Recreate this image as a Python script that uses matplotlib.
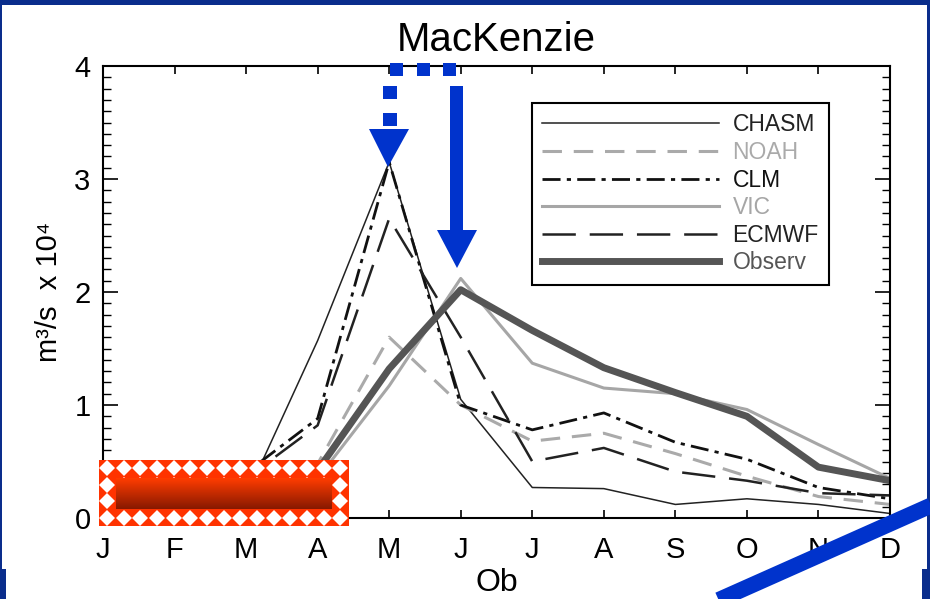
import numpy as np
import matplotlib.pyplot as plt
from matplotlib.patches import Rectangle, Polygon

plt.rcParams['font.family'] = ['Liberation Sans', 'DejaVu Sans']
plt.rcParams['lines.scale_dashes'] = False

months = ['J', 'F', 'M', 'A', 'M', 'J', 'J', 'A', 'S', 'O', 'N', 'D']
chasm = [0.0, 0.02, 0.19, 1.57, 3.15, 1.05, 0.27, 0.26, 0.12, 0.17, 0.12, 0.04]
noah = [0.0, 0.0, 0.05, 0.48, 1.6, 1.0, 0.68, 0.75, 0.57, 0.37, 0.19, 0.12]
clm = [0.0, 0.02, 0.4, 0.88, 3.15, 1.0, 0.78, 0.93, 0.67, 0.52, 0.27, 0.17]
vic = [0.0, 0.0, 0.0, 0.35, 1.17, 2.12, 1.37, 1.15, 1.1, 0.96, 0.65, 0.35]
ecmwf = [0.0, 0.02, 0.35, 0.82, 2.65, 1.6, 0.5, 0.62, 0.41, 0.33, 0.22, 0.2]
observ = [0.0, 0.0, 0.05, 0.42, 1.32, 2.02, 1.66, 1.33, 1.11, 0.9, 0.45, 0.33]

fig = plt.figure(figsize=(9.3, 5.99), dpi=100)
ax = fig.add_axes([103/930, 1-518/599, 787/930, 452/599])
x = np.arange(len(months))

ax.plot(x, chasm, color='#222222', lw=1.1, label='CHASM')
ax.plot(x, noah, color='#aaaaaa', lw=2.2, dashes=(14, 8.5), label='NOAH')
ax.plot(x, clm, color='#111111', lw=2.0, dashes=(13, 4.5, 3, 4.5), label='CLM')
ax.plot(x, vic, color='#a6a6a6', lw=2.2, label='VIC')
ax.plot(x, ecmwf, color='#222222', lw=1.8, dashes=(24, 10), label='ECMWF')
ax.plot(x, observ, color='#555555', lw=5, label='Observ')

ax.set_xlim(0, 11)
ax.set_ylim(0, 4)
ax.set_xticks(x)
ax.set_xticklabels(months)
ax.set_yticks([0, 1, 2, 3, 4])
ax.set_yticks(np.arange(0, 4.01, 0.1), minor=True)
ax.tick_params(axis='x', which='major', direction='in', top=True, length=5.5,
               width=1.2, labelsize=21, pad=13)
ax.tick_params(axis='x', which='minor', bottom=False, top=False)
ax.tick_params(axis='y', which='major', direction='in', right=True, length=11,
               width=1.2, labelsize=21, pad=9)
ax.tick_params(axis='y', which='minor', direction='in', right=True, length=6, width=1.0)
for s in ax.spines.values():
    s.set_linewidth(1.5)

ax.set_title('MacKenzie', fontsize=29, pad=11)
ax.set_ylabel('m³/s  x 10⁴', fontsize=21, labelpad=8)
ax.set_xlabel('Ob', fontsize=23, labelpad=3)

leg = ax.legend(loc='upper left', bbox_to_anchor=(0.545, 0.918), borderaxespad=0,
                fancybox=False, edgecolor='black', framealpha=1, fontsize=16.5,
                handlelength=7.7, handletextpad=0.6, labelspacing=0.2, borderpad=0.45)
leg.get_frame().set_linewidth(1.5)
for t, l in zip(leg.get_texts(), leg.get_lines()):
    t.set_color(l.get_color())

# overlay decorations in pixel coordinates
ov = fig.add_axes([0, 0, 1, 1], zorder=5)
ov.patch.set_alpha(0)
navy = '#0a2d8c'
blue = '#0033cc'
for r in [(0, 0, 930, 5), (0, 0, 2, 599), (927, 0, 3, 599), (0, 569, 6, 30), (922, 569, 8, 30)]:
    ov.add_patch(Rectangle((r[0], r[1]), r[2], r[3], color=navy, lw=0))

# red checkered box
ov.add_patch(Rectangle((98.7, 459.7), 250, 66.7, facecolor='#ff3300', lw=0, zorder=1))
gx, gy = np.meshgrid(107 + 16.67*np.arange(15), 468 + 16.67*np.arange(4))
ov.plot(gx.ravel(), gy.ravel(), 'D', ms=8.3, color='white', mew=0, zorder=2)
grad = np.zeros((50, 1, 3))
top_c = np.array([255, 60, 0]) / 255
bot_c = np.array([135, 25, 0]) / 255
for i in range(50):
    grad[i, 0] = top_c + (bot_c - top_c) * i / 49
ov.imshow(grad, extent=(116, 331, 509, 478), aspect='auto', interpolation='bilinear', zorder=3)

# arrows
for x0 in [390, 416.5, 443]:
    ov.add_patch(Rectangle((x0, 63), 13, 13, color=blue, lw=0))
for y0 in [86, 113]:
    ov.add_patch(Rectangle((383, y0), 14, 13, color=blue, lw=0))
ov.add_patch(Polygon([(369, 129), (409, 129), (388, 167)], color=blue, lw=0))
ov.add_patch(Rectangle((450, 86), 13, 145, color=blue, lw=0))
ov.add_patch(Polygon([(437, 230), (477, 230), (457, 268)], color=blue, lw=0))

# diagonal line
ov.plot([700, 950], [608.3, 497], color=blue, lw=11.5, solid_capstyle='butt', zorder=4)

ov.set_xlim(0, 930)
ov.set_ylim(599, 0)
ov.axis('off')

fig.savefig('out.png', dpi=100)
